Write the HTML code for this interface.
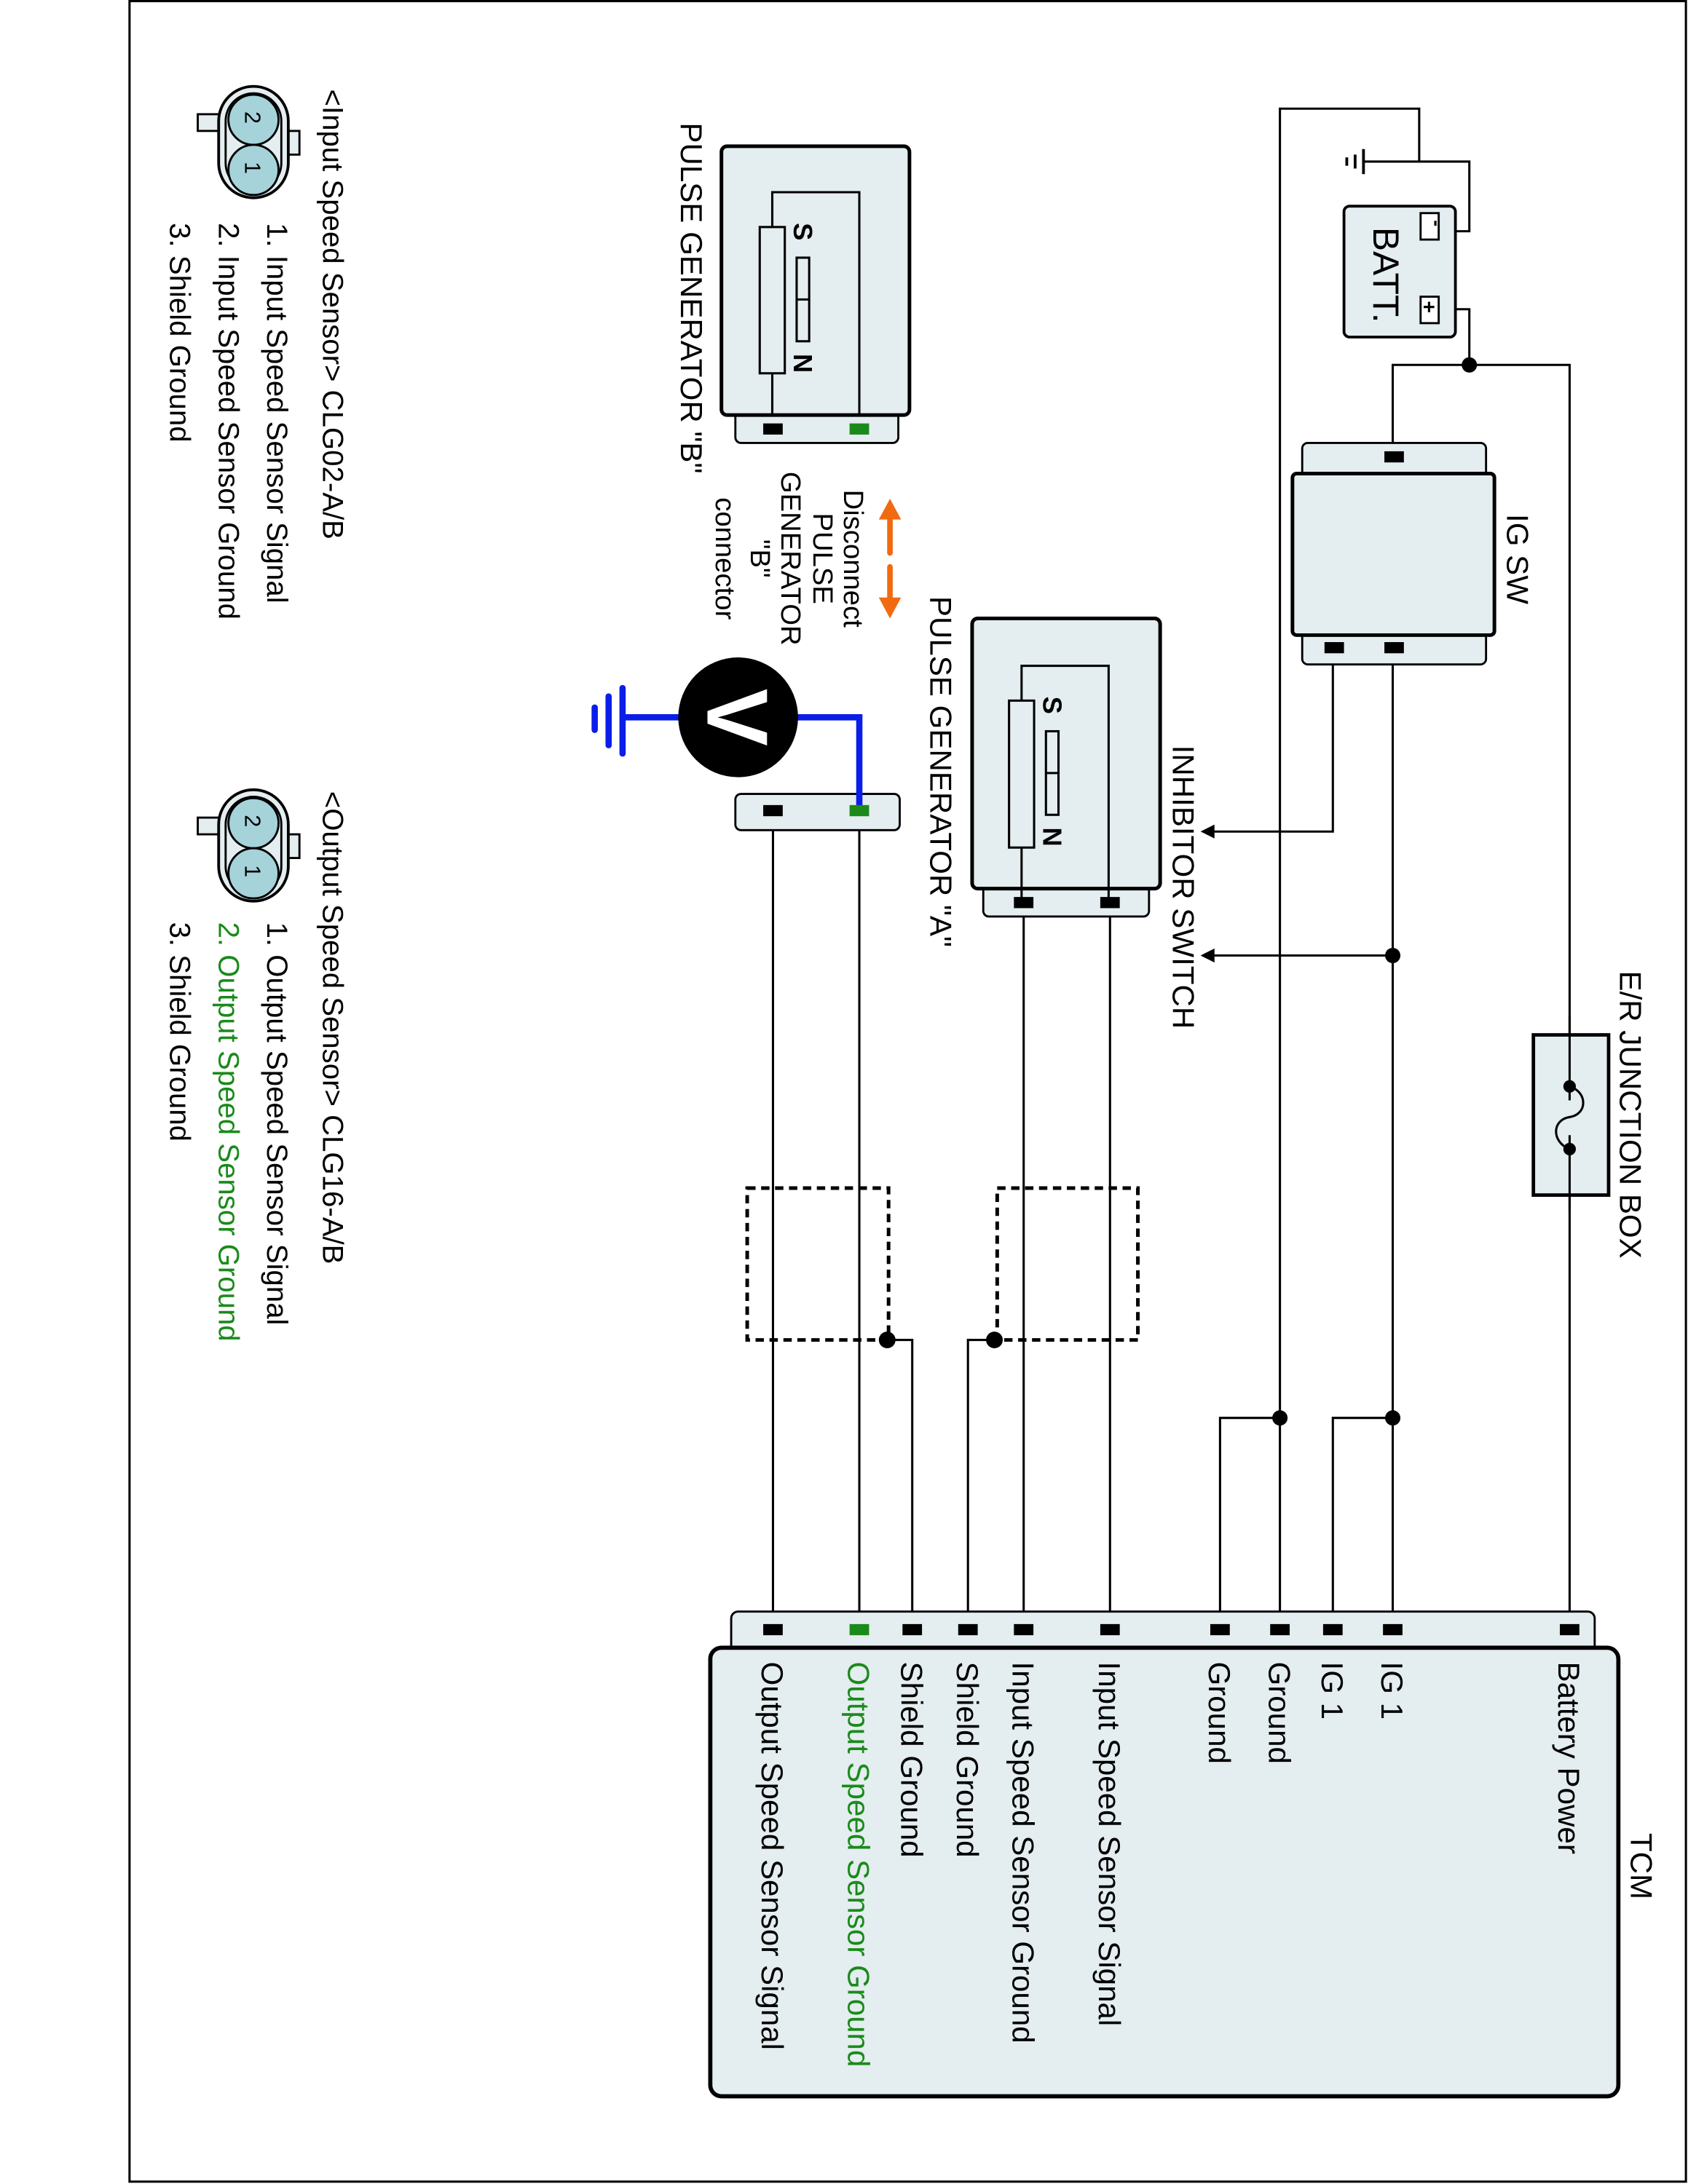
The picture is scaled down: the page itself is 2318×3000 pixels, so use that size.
<!DOCTYPE html>
<html><head><meta charset="utf-8"><style>
html,body{margin:0;padding:0;background:#fff;}
svg{display:block;}
text{font-family:"Liberation Sans",Arial,sans-serif;fill:#000;}
</style></head><body>
<svg width="2318" height="3000" viewBox="0 0 1212 1568" preserveAspectRatio="none" xmlns="http://www.w3.org/2000/svg">
<rect x="0" y="0" width="1212" height="1568" fill="#fff"/>
<rect x="93" y="0.8" width="1117.5" height="1565.5" fill="none" stroke="#000" stroke-width="1.6"/>

<g stroke="#000" stroke-width="1.6" fill="none">
<polyline points="919,1170 919,78 1019,78 1019,116"/>
<polyline points="979,116 1055,116 1055,166 1033,166"/>
<polyline points="1033,222 1055,222 1055,262"/>
<polyline points="1000,328 1000,262 1127,262 1127,1170"/>
<polyline points="957,465 957,597 870,597"/>
<polyline points="1000,465 1000,1170"/>
<line x1="1000" y1="686" x2="870" y2="686"/>
<polyline points="1000,1018 957,1018 957,1170"/>
<polyline points="919,1018 876,1018 876,1170"/>
<line x1="797" y1="648" x2="797" y2="1170"/>
<line x1="735" y1="648" x2="735" y2="1170"/>
<polyline points="714,962 695,962 695,1170"/>
<line x1="617" y1="582" x2="617" y2="1170"/>
<line x1="555" y1="582" x2="555" y2="1170"/>
<polyline points="637,962 655,962 655,1170"/>
</g>
<g stroke="#000" stroke-width="2">
<line x1="979" y1="107" x2="979" y2="125"/>
<line x1="973" y1="111" x2="973" y2="121"/>
<line x1="967" y1="113" x2="967" y2="119"/>
</g>
<polygon points="862,597 872,592 872,602" fill="#000"/>
<polygon points="862,686 872,681 872,691" fill="#000"/>
<g fill="#000">
<circle cx="1055" cy="262" r="5.5"/>
<circle cx="1000" cy="686" r="5.5"/>
<circle cx="1000" cy="1018" r="5.5"/>
<circle cx="919" cy="1018" r="5.5"/>
<circle cx="714" cy="962" r="6"/>
<circle cx="637" cy="962" r="6"/>
</g>
<g stroke="#000" stroke-width="2.6" fill="none" stroke-dasharray="6,4">
<rect x="536.5" y="853" width="101.5" height="109"/>
<rect x="716" y="853" width="101" height="109"/>
</g>

<rect x="965" y="148" width="80" height="94" rx="4" fill="#e4edef" stroke="#000" stroke-width="2"/>
<rect x="1020" y="153" width="13" height="19" fill="#fff" stroke="#000" stroke-width="1.5"/>
<rect x="1020" y="213" width="13" height="19" fill="#fff" stroke="#000" stroke-width="1.5"/>
<text transform="translate(1027,158) rotate(90)" font-size="14" font-weight="bold">-</text>
<text transform="translate(1021,216) rotate(90)" font-size="15" font-weight="bold">+</text>
<text transform="translate(986,163) rotate(90)" font-size="26">BATT.</text>

<rect x="935" y="318" width="132" height="159" rx="4" fill="#e4edef" stroke="#000" stroke-width="1.5"/>
<rect x="928" y="340" width="145" height="116" rx="3" fill="#e4edef" stroke="#000" stroke-width="2.6"/>
<g fill="#000"><rect x="994" y="324" width="14" height="8"/><rect x="951" y="461" width="14" height="8"/><rect x="994" y="461" width="14" height="8"/></g>
<text transform="translate(1082,369) rotate(90)" font-size="22">IG SW</text>

<rect x="1101" y="743" width="54" height="115" fill="#e4edef" stroke="#000" stroke-width="2.5"/>
<line x1="1127" y1="730" x2="1127" y2="870" stroke="#000" stroke-width="1.6"/>
<rect x="1108" y="790" width="38" height="25" fill="#e4edef"/>
<path d="M1127,780 C1140,784 1140,800 1127,802 C1114,804 1114,820 1127,825" fill="none" stroke="#000" stroke-width="1.6"/>
<circle cx="1127" cy="780" r="4.5"/><circle cx="1127" cy="825" r="4.5"/>
<text transform="translate(1163,697) rotate(90)" font-size="22">E/R JUNCTION BOX</text>

<text transform="translate(842,535) rotate(90)" font-size="22">INHIBITOR SWITCH</text>

<rect x="706" y="610" width="119" height="48" rx="4" fill="#e4edef" stroke="#000" stroke-width="1.5"/>
<rect x="698" y="444" width="135" height="194" rx="4" fill="#e4edef" stroke="#000" stroke-width="2.6"/>
<polyline points="733.5,648 733.5,608 733.5,478 796,478 796,648" fill="none" stroke="#000" stroke-width="1.6"/>
<rect x="724.5" y="503" width="18" height="105.5" fill="#e4edef" stroke="#000" stroke-width="1.6"/>
<rect x="751" y="525" width="9" height="60" fill="#e4edef" stroke="#000" stroke-width="1.6"/>
<line x1="751" y1="555" x2="760" y2="555" stroke="#000" stroke-width="1.6"/>
<text transform="translate(749,500) rotate(90)" font-size="19" font-weight="bold">S</text>
<text transform="translate(749,594) rotate(90)" font-size="19" font-weight="bold">N</text>
<g fill="#000"><rect x="728" y="644" width="14" height="8"/><rect x="790" y="644" width="14" height="8"/></g>
<text transform="translate(668,428) rotate(90)" font-size="22">PULSE GENERATOR "A"</text>

<rect x="528" y="290" width="117" height="28" rx="4" fill="#e4edef" stroke="#000" stroke-width="1.5"/>
<rect x="518" y="105" width="135" height="193" rx="4" fill="#e4edef" stroke="#000" stroke-width="2.6"/>
<polyline points="554.5,298 554.5,138 617,138 617,298" fill="none" stroke="#000" stroke-width="1.6"/>
<rect x="545.5" y="163" width="18" height="105" fill="#e4edef" stroke="#000" stroke-width="1.6"/>
<rect x="572" y="185" width="9" height="60" fill="#e4edef" stroke="#000" stroke-width="1.6"/>
<line x1="572" y1="215" x2="581" y2="215" stroke="#000" stroke-width="1.6"/>
<text transform="translate(570,160) rotate(90)" font-size="19" font-weight="bold">S</text>
<text transform="translate(570,254) rotate(90)" font-size="19" font-weight="bold">N</text>
<rect x="548" y="304" width="14" height="8" fill="#000"/>
<rect x="610" y="304" width="14" height="8" fill="#1a8a1a"/>
<text transform="translate(489,88) rotate(90)" font-size="22">PULSE GENERATOR "B"</text>

<g stroke="#f26a10" stroke-width="4" stroke-linecap="round"><line x1="639" y1="368" x2="639" y2="397"/><line x1="639" y1="407" x2="639" y2="434"/></g>
<polygon points="639,358 647,373 631,373" fill="#f26a10"/>
<polygon points="639,444 647,429 631,429" fill="#f26a10"/>
<g font-size="20" text-anchor="middle">
<text transform="translate(606,401) rotate(90)">Disconnect</text>
<text transform="translate(584,401) rotate(90)">PULSE</text>
<text transform="translate(561,401) rotate(90)">GENERATOR</text>
<text transform="translate(539,401) rotate(90)">"B"</text>
<text transform="translate(514,401) rotate(90)">connector</text>
</g>

<rect x="528" y="570" width="118" height="26" rx="4" fill="#e4edef" stroke="#000" stroke-width="1.5"/>
<polyline points="617,582 617,515 560,515" fill="none" stroke="#0a1ee8" stroke-width="4.5"/>
<line x1="500" y1="515" x2="447" y2="515" stroke="#0a1ee8" stroke-width="4.5"/>
<g stroke="#0a1ee8" stroke-width="4.5" stroke-linecap="round">
<line x1="447" y1="494" x2="447" y2="541"/><line x1="437" y1="500" x2="437" y2="535"/><line x1="427" y1="508" x2="427" y2="524"/></g>
<circle cx="530" cy="515" r="43" fill="#000"/>
<text transform="translate(508,515) rotate(90)" font-size="62" font-weight="bold" text-anchor="middle" style="fill:#fff">V</text>
<rect x="548" y="578" width="14" height="8" fill="#000"/>
<rect x="610" y="578" width="14" height="8" fill="#1a8a1a"/>

<rect x="525" y="1157" width="620" height="40" rx="5" fill="#e4edef" stroke="#000" stroke-width="1.5"/>
<rect x="510" y="1183" width="652" height="322" rx="8" fill="#e4edef" stroke="#000" stroke-width="3"/>
<g fill="#000">
<rect x="1120" y="1166" width="14" height="8"/>
<rect x="993" y="1166" width="14" height="8"/>
<rect x="950" y="1166" width="14" height="8"/>
<rect x="912" y="1166" width="14" height="8"/>
<rect x="869" y="1166" width="14" height="8"/>
<rect x="790" y="1166" width="14" height="8"/>
<rect x="728" y="1166" width="14" height="8"/>
<rect x="688" y="1166" width="14" height="8"/>
<rect x="648" y="1166" width="14" height="8"/>
<rect x="548" y="1166" width="14" height="8"/>
</g>
<rect x="610" y="1166" width="14" height="8" fill="#1a8a1a"/>
<g font-size="22">
<text transform="translate(1171,1316) rotate(90)">TCM</text>
<text transform="translate(1119,1193) rotate(90)">Battery Power</text>
<text transform="translate(992,1193) rotate(90)">IG 1</text>
<text transform="translate(949,1193) rotate(90)">IG 1</text>
<text transform="translate(911,1193) rotate(90)">Ground</text>
<text transform="translate(868,1193) rotate(90)">Ground</text>
<text transform="translate(789,1193) rotate(90)">Input Speed Sensor Signal</text>
<text transform="translate(727,1193) rotate(90)">Input Speed Sensor Ground</text>
<text transform="translate(687,1193) rotate(90)">Shield Ground</text>
<text transform="translate(647,1193) rotate(90)">Shield Ground</text>
<text transform="translate(609,1193) rotate(90)" style="fill:#1a8a1a">Output Speed Sensor Ground</text>
<text transform="translate(547,1193) rotate(90)">Output Speed Sensor Signal</text>
</g>

<g id="conn1">
<rect x="142" y="82" width="18" height="12" fill="#e4edef" stroke="#000" stroke-width="1.5"/>
<rect x="205" y="94" width="10" height="17" fill="#e4edef" stroke="#000" stroke-width="1.5"/>
<rect x="157" y="62" width="50" height="80" rx="25" fill="#e4edef" stroke="#000" stroke-width="2"/>
<rect x="162" y="67" width="40" height="70" rx="20" fill="#e4edef" stroke="#000" stroke-width="1.5"/>
<circle cx="182" cy="86" r="18" fill="#a6d2da" stroke="#000" stroke-width="1.5"/>
<circle cx="182" cy="122" r="18" fill="#a6d2da" stroke="#000" stroke-width="1.5"/>
<text transform="translate(176,80) rotate(90)" font-size="16">2</text>
<text transform="translate(176,116) rotate(90)" font-size="16">1</text>
</g>
<use href="#conn1" transform="translate(0,505)"/>
<g font-size="21">
<text transform="translate(232,64) rotate(90)">&lt;Input Speed Sensor&gt; CLG02-A/B</text>
<text transform="translate(192,160) rotate(90)">1. Input Speed Sensor Signal</text>
<text transform="translate(157,160) rotate(90)">2. Input Speed Sensor Ground</text>
<text transform="translate(122,160) rotate(90)">3. Shield Ground</text>
<text transform="translate(232,568) rotate(90)">&lt;Output Speed Sensor&gt; CLG16-A/B</text>
<text transform="translate(192,662) rotate(90)">1. Output Speed Sensor Signal</text>
<text transform="translate(157,662) rotate(90)" style="fill:#1a8a1a">2. Output Speed Sensor Ground</text>
<text transform="translate(122,662) rotate(90)">3. Shield Ground</text>
</g>
</svg>
</body></html>
